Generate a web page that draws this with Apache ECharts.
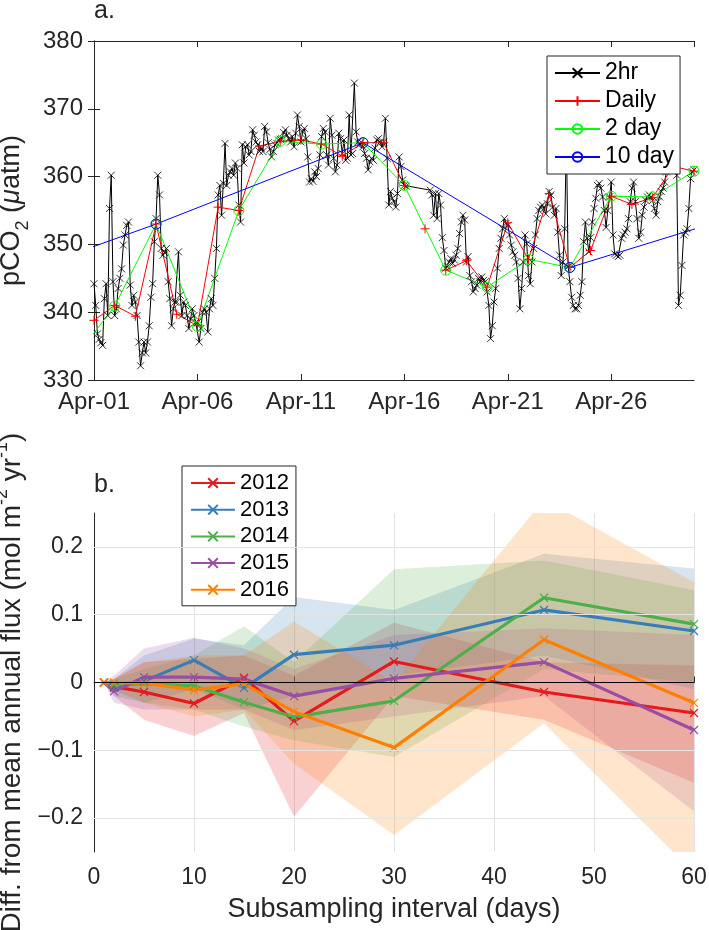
<!DOCTYPE html>
<html>
<head>
<meta charset="utf-8">
<script src="https://cdn.jsdelivr.net/npm/echarts@6/dist/echarts.min.js"></script>
<style>
  html, body { margin: 0; background: #fff; }
  #main { width: 709px; height: 930px; }
</style>
</head>
<body>
<div id="main"></div>
<script>
// ---- panel a: pCO2 (uatm), 2-hourly, one row per day from Apr-01; last value = Apr-30 00:00
var hr2Values = [
  344.2, 341, 336.8, 336, 335.5, 335.1, 342, 344.2, 339.5, 355.3, 360.2, 344.5,
  339.5, 340.5, 343.5, 345, 346.4, 349.9, 351.4, 352.8, 353.3, 344, 341, 342.5,
  341.5, 339.5, 335.6, 332.1, 334, 335.6, 334, 335.6, 338, 342.2, 344.2, 350.4,
  353.8, 360.2, 357.3, 349.4, 348.4, 348.8, 349.4, 344.5, 342, 338, 340.5, 341.5,
  341.5, 348.9, 342.5, 339.5, 341.5, 341, 339.5, 337.6, 339, 340.5, 339.5, 338.5,
  338.5, 335.6, 337.6, 340, 340.5, 340, 337.1, 340.5, 342, 341, 345, 349.4,
  357.3, 358.7, 354.3, 359, 364.9, 358.7, 360.2, 360.7, 361.2, 360.2, 362, 361.2,
  355.8, 353.3, 364.7, 362, 364.4, 364.7, 363.2, 363.7, 366.9, 366.1, 365.1, 364.7,
  363.7, 364.2, 363.7, 367.4, 366.6, 365, 364, 362.9, 363.7, 364.7, 364.9, 365.4,
  365.5, 365.6, 366.5, 366.9, 366.1, 365.6, 365.1, 365.9, 364.4, 366.4, 369.1, 367.4,
  365.1, 366.6, 367.1, 365.6, 362.9, 359.2, 359.7, 359.3, 360.7, 360, 361.2, 363.2,
  365.9, 367.1, 366.6, 363.2, 361.7, 368.6, 366.1, 362.7, 360.7, 361.7, 366.4, 365.6,
  363.4, 365.4, 362.4, 362.7, 369.1, 363.2, 363.4, 373.8, 366.6, 365.1, 364.7, 365.1,
  364.4, 363.4, 362.7, 361, 362.2, 362.7, 362.4, 364.2, 365.4, 365.6, 365.1, 364.4,
  365.1, 368.6, 362.7, 355.8, 357.8, 356.8, 356.3, 355.5, 357.5, 362.9, 361.5, 359.5,
  358.7, 358.6, null, null, null, null, null, null, null, null, null, null,
  null, null, null, 358, 357.3, 354.3, 357.5, 353.8, 357.5, 355.8, 351, 349.1,
  346.5, 346.7, 347.4, 347.9, 347.2, 347.7, 348.4, 349.4, 351.6, 353.3, 354.3, 353.6,
  347.4, 348.2, 345.4, 344.5, 343, 343.5, 344, 345, 344.5, 345.2, 344.7, 344.5,
  343, 341, 336.1, 338, 341.5, 343.5, 346.5, 349.4, 350.9, 352.3, 353.8, 353.1,
  352.8, 351.4, 349.9, 348.9, 348.4, 347.4, 345, 340.5, 343.5, 347.4, 351.4, 350.1,
  345.4, 344.2, 347.4, 349.4, 351.4, 353.8, 355, 355.5, 355.8, 355.3, 354.5, 356,
  357.8, 357.3, 355.5, 354.3, 355.3, 351.8, 348.4, 345.4, 347.4, 352.3, 366, 346.7,
  344.5, 342.2, 341, 340.5, 340.5, 341, 342.5, 344.5, 350.4, 353.3, 350.9, 348.9,
  351, 353.3, 355.3, 356.8, 358.7, 359, 358.3, 357, 355, 352.5, 355, 357,
  359.2, 351.4, 348.6, 348.4, 348.2, 348.4, 350.9, 351.4, 351.8, 352.3, 353.8, 356.3,
  358.3, 359.2, 356.3, 353.8, 350.9, 351.8, 354.3, 355.5, 356.5, 357, 357.3, 357,
  356.5, 355.3, 354.3, 356.3, 357, 357.8, 358.3, 359.2, 360.7, 362.2, 362.7, 363,
  362.2, 361.5, 360.2, 341, 342.5, 346.9, 351.4, 351.8, 352.3, 355.3, 359.7, 360.7,
  361
];
var dailyValues = [338.8, 341, 339.4, 353, 339.7, 338, 355.5, 355, 364.5, 365.2,
  365.4, 364.8, 363, 365, 365, 358.7, 352.3, 346.2, 347.6, 343.7,
  353.2, 347.8, 357.5, 346.6, 349.1, 357.1, 355.9, 356.9, 361.5, 360.8];
var dailyBreaks = [15.5, 16.5];
var twoDayDays = [-1, 1, 3, 5, 7, 9, 11, 13, 15, 17, 19, 21, 23, 25, 27, 29];
var twoDayValues = [333, 340.9, 353, 337.9, 355, 365.2, 364.8, 365, 358.7, 346.2, 343.7, 347.8, 346.6, 357.1, 357, 360.8];
var tenDayDays = [-7, 3, 13, 23, 33];
var tenDayValues = [342, 353, 365, 346.6, 356];

// ---- panel b: difference from mean annual flux vs subsampling interval
var intervals = [1, 2, 5, 10, 15, 20, 30, 45, 60];
var years = ['2012', '2013', '2014', '2015', '2016'];
var mean2012 = [0, -0.006, -0.014, -0.031, 0.007, -0.057, 0.031, -0.014, -0.045];
var lo2012 = [0, -0.02, -0.055, -0.079, -0.045, -0.198, -0.02, -0.055, -0.148];
var hi2012 = [0, 0.005, 0.03, 0.035, 0.04, 0.01, 0.088, 0.03, 0.025];
var mean2013 = [0, -0.008, 0.002, 0.033, -0.008, 0.041, 0.055, 0.107, 0.076];
var lo2013 = [0, -0.02, -0.03, -0.01, -0.04, -0.02, 0.01, 0.04, -0.01];
var hi2013 = [0, 0.005, 0.04, 0.065, 0.055, 0.126, 0.107, 0.19, 0.168];
var mean2014 = [0, -0.003, -0.002, -0.005, -0.029, -0.051, -0.027, 0.125, 0.086];
var lo2014 = [0, -0.012, -0.03, -0.04, -0.065, -0.085, -0.11, 0.02, 0];
var hi2014 = [0, 0.005, 0.02, 0.04, 0.083, 0.03, 0.167, 0.18, 0.136];
var mean2015 = [0, -0.013, 0.008, 0.008, 0.005, -0.02, 0.006, 0.03, -0.07];
var lo2015 = [0, -0.03, -0.04, -0.04, -0.04, -0.07, -0.05, -0.02, -0.19];
var hi2015 = [0, 0.01, 0.05, 0.066, 0.05, 0.02, 0.07, 0.08, 0.07];
var mean2016 = [0, 0, -0.001, -0.011, -0.002, -0.043, -0.096, 0.063, -0.03];
var lo2016 = [0, -0.01, -0.03, -0.05, -0.04, -0.12, -0.225, -0.06, -0.281];
var hi2016 = [0, 0.005, 0.03, 0.04, 0.04, 0.09, 0, 0.27, 0.148];
var yGridValues = [-0.2, -0.1, 0.1, 0.2];
var yearColors = ['#e41a1c', '#377eb8', '#4daf4a', '#984ea3', '#ff7f00'];

var FONT = "'Liberation Sans', Arial, Helvetica, sans-serif";
var AX = '#262626';
var xMark = 'path://M0,0L10,10M10,0L0,10';
var plusMark = 'path://M5,0L5,10M0,5L10,5';
var ringMark = 'path://M10,5A5,5,0,1,1,0,5A5,5,0,1,1,10,5Z';

function pad2(n) { return (n < 10 ? '0' : '') + n; }
function zip(xs, ys) { return xs.map(function (x, i) { return [x, ys[i]]; }); }

var hr2Data = hr2Values.map(function (v, i) { return [i / 12, v === null ? '-' : v]; });
var dailyData = [];
dailyValues.forEach(function (v, d) {
  dailyData.push([d, v]);
  if (dailyBreaks.indexOf(d + 0.5) >= 0) dailyData.push([d + 0.5, '-']);
});

var means = [mean2012, mean2013, mean2014, mean2015, mean2016];
var lows = [lo2012, lo2013, lo2014, lo2015, lo2016];
var highs = [hi2012, hi2013, hi2014, hi2015, hi2016];

var series = [
  {
    name: '2hr', type: 'line', xAxisIndex: 0, yAxisIndex: 0, data: hr2Data,
    connectNulls: true, symbol: xMark, symbolSize: 7,
    lineStyle: { color: '#000', width: 1 },
    itemStyle: { color: '#000', borderColor: '#000', borderWidth: 0.8 }
  },
  {
    name: 'Daily', type: 'line', xAxisIndex: 0, yAxisIndex: 0, data: dailyData,
    symbol: plusMark, symbolSize: 9,
    lineStyle: { color: '#ff0000', width: 1 },
    itemStyle: { color: '#ff0000', borderColor: '#ff0000', borderWidth: 1 }
  },
  {
    name: '2 day', type: 'line', xAxisIndex: 0, yAxisIndex: 0, data: zip(twoDayDays, twoDayValues),
    symbol: ringMark, symbolSize: 10,
    lineStyle: { color: '#00ff00', width: 1 },
    itemStyle: { color: 'rgba(0,0,0,0)', borderColor: '#00ff00', borderWidth: 1 }
  },
  {
    name: '10 day', type: 'line', xAxisIndex: 0, yAxisIndex: 0, data: zip(tenDayDays, tenDayValues),
    symbol: ringMark, symbolSize: 10,
    lineStyle: { color: '#0000ff', width: 1 },
    itemStyle: { color: 'rgba(0,0,0,0)', borderColor: '#0000ff', borderWidth: 1 }
  }
];

// shaded spread bands, one polygon per year (upper edge out, lower edge back)
years.forEach(function (y, k) {
  var band = {
    name: 'band-' + y, type: 'custom', coordinateSystem: 'cartesian2d',
    xAxisIndex: 2, yAxisIndex: 2, clip: true, silent: true, z: 1,
    data: [[intervals[0], means[k][0]]],
    renderItem: function (params, api) {
      var pts = [];
      for (var i = 0; i < intervals.length; i++) pts.push(api.coord([intervals[i], highs[k][i]]));
      for (var j = intervals.length - 1; j >= 0; j--) pts.push(api.coord([intervals[j], lows[k][j]]));
      return { type: 'polygon', shape: { points: pts }, style: { fill: yearColors[k], opacity: 0.2 } };
    }
  };
  if (k === 0) {
    var lines = yGridValues.map(function (v) {
      return { yAxis: v, lineStyle: { color: '#e3e3e3', width: 1, type: 'solid' } };
    });
    lines.push({ yAxis: 0, lineStyle: { color: '#000', width: 1, type: 'solid' } });
    band.markLine = { silent: true, symbol: 'none', label: { show: false }, animation: false, data: lines };
  }
  series.push(band);
});
years.forEach(function (y, k) {
  series.push({
    name: y, type: 'line', xAxisIndex: 2, yAxisIndex: 2, data: zip(intervals, means[k]), z: 3,
    symbol: xMark, symbolSize: 8,
    lineStyle: { color: yearColors[k], width: 3.2 },
    itemStyle: { color: yearColors[k], borderColor: yearColors[k], borderWidth: 1.2 }
  });
});

var axisLineStyle = { lineStyle: { color: AX, width: 1 } };
var tickStyle = { inside: true, length: 6, lineStyle: { color: AX } };

var option = {
  animation: false,
  backgroundColor: '#fff',
  textStyle: { fontFamily: FONT },
  grid: [
    { left: 94, top: 41, width: 600, height: 339, outerBoundsMode: 'none', containLabel: false },
    { left: 94, top: 513, width: 600, height: 339, outerBoundsMode: 'none', containLabel: false }
  ],
  graphic: [
    { type: 'text', left: 94, top: -1, style: { text: 'a.', fontSize: 25, fontFamily: FONT, fill: AX } },
    { type: 'text', left: 94, top: 473, style: { text: 'b.', fontSize: 25, fontFamily: FONT, fill: AX } }
  ],
  legend: [
    {
      data: ['2hr', 'Daily', '2 day', '10 day'],
      orient: 'vertical', left: 547, top: 56, selectedMode: false,
      itemWidth: 45, itemHeight: 12, itemGap: 4,
      padding: [5, 6, 5, 7], borderColor: AX, borderWidth: 1, backgroundColor: '#fff',
      textStyle: { fontSize: 23, color: '#000', fontFamily: FONT, lineHeight: 24 }
    },
    {
      data: years,
      orient: 'vertical', left: 182, top: 466, selectedMode: false,
      itemWidth: 44, itemHeight: 12, itemGap: 4.7,
      padding: [6, 7, 5, 8], borderColor: AX, borderWidth: 1, backgroundColor: '#fff',
      textStyle: { fontSize: 22, color: '#000', fontFamily: FONT, lineHeight: 22 }
    }
  ],
  xAxis: [
    {
      gridIndex: 0, type: 'value', min: 0, max: 29, interval: 5,
      axisLine: axisLineStyle, axisTick: tickStyle, splitLine: { show: false },
      axisLabel: {
        fontSize: 24, color: AX, fontFamily: FONT, margin: 10, showMaxLabel: false,
        formatter: function (v) { return 'Apr-' + pad2(v + 1); }
      }
    },
    {
      gridIndex: 0, type: 'value', position: 'top', min: 0, max: 29, interval: 5,
      axisLine: axisLineStyle, axisTick: tickStyle, axisLabel: { show: false },
      splitLine: { show: false }
    },
    {
      gridIndex: 1, type: 'value', min: 0, max: 60, interval: 10,
      axisLine: axisLineStyle, axisTick: tickStyle,
      splitLine: { show: true, lineStyle: { color: '#e3e3e3', width: 1 } },
      axisLabel: { fontSize: 23, color: AX, fontFamily: FONT, margin: 14 },
      name: 'Subsampling interval (days)', nameLocation: 'middle', nameGap: 44,
      nameTextStyle: { fontSize: 27, color: AX, fontFamily: FONT }
    }
  ],
  yAxis: [
    {
      gridIndex: 0, type: 'value', min: 330, max: 380, interval: 10,
      axisLine: axisLineStyle, axisTick: tickStyle, splitLine: { show: false },
      axisLabel: { fontSize: 24, color: AX, fontFamily: FONT, margin: 11 },
      name: '{n|pCO}{b|2}{n| (}{i|\u03bc}{n|atm)}', nameLocation: 'middle', nameGap: 28,
      nameTextStyle: {
        rich: {
          n: { fontSize: 27, color: AX, fontFamily: FONT, verticalAlign: 'top', lineHeight: 34 },
          i: { fontSize: 27, color: AX, fontFamily: FONT, fontStyle: 'italic', verticalAlign: 'top', lineHeight: 34 },
          b: { fontSize: 18, color: AX, fontFamily: FONT, verticalAlign: 'bottom', lineHeight: 34 }
        }
      }
    },
    {
      gridIndex: 0, type: 'value', position: 'right', min: 330, max: 380, interval: 10,
      axisLine: axisLineStyle, axisTick: tickStyle, axisLabel: { show: false },
      splitLine: { show: false }
    },
    {
      gridIndex: 1, type: 'value', min: -0.25, max: 0.25, splitNumber: 5,
      axisLine: { show: true, lineStyle: { color: AX, width: 1 } }, axisTick: tickStyle,
      splitLine: { show: false },
      axisLabel: {
        fontSize: 23, color: AX, fontFamily: FONT, margin: 11,
        showMinLabel: false, showMaxLabel: false,
        formatter: function (v) { return v === 0 ? '0' : String(+v.toFixed(2)).replace('-', '\u2212'); }
      },
      name: '{n|Diff. from mean annual flux (mol m}{s|-2}{n| yr}{s|-1}{n|)}',
      nameLocation: 'middle', nameGap: 45,
      nameTextStyle: {
        rich: {
          n: { fontSize: 28, color: AX, fontFamily: FONT, verticalAlign: 'bottom', lineHeight: 34 },
          s: { fontSize: 18, color: AX, fontFamily: FONT, verticalAlign: 'top', lineHeight: 34 }
        }
      }
    }
  ],
  series: series
};

var chart = echarts.init(document.getElementById('main'));
chart.setOption(option);
</script>
</body>
</html>
